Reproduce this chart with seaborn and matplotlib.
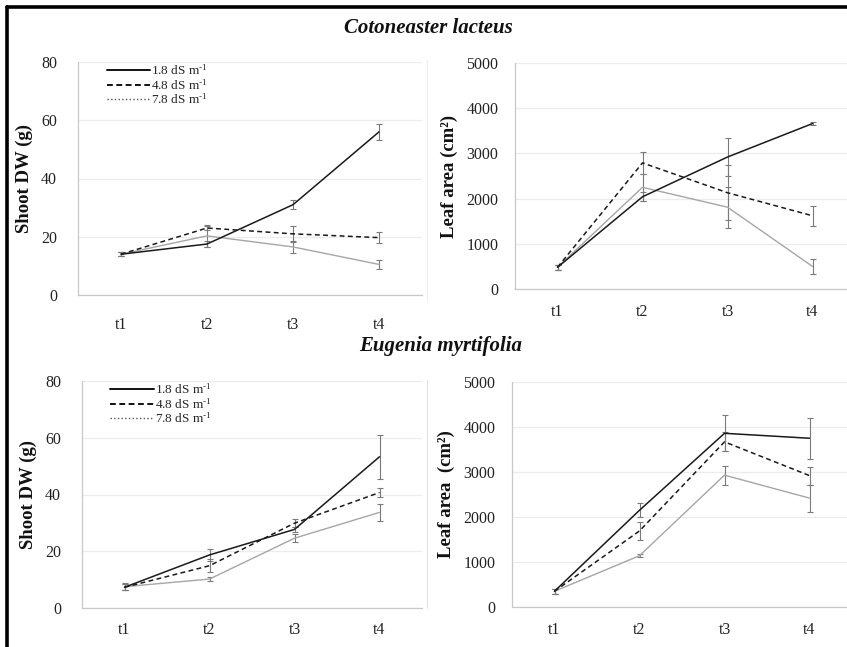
import matplotlib
matplotlib.use("Agg")
import matplotlib.pyplot as plt
import seaborn as sns
import pandas as pd
from matplotlib.lines import Line2D

# ---------------- data ----------------
times = ["t1", "t2", "t3", "t4"]
treatments = ["1.8 dS m$^{\\text{-1}}$", "4.8 dS m$^{\\text{-1}}$", "7.8 dS m$^{\\text{-1}}$"]

# Cotoneaster lacteus
cot_dw = [[14.0, 17.5, 31.0, 56.0],
          [14.0, 23.0, 21.0, 19.7],
          [14.0, 20.3, 16.5, 10.5]]
cot_dw_err = [[0.6, 1.0, 1.5, 2.8],
              [0.6, 0.8, 2.8, 2.0],
              [0.6, 3.7, 2.0, 1.5]]
cot_la = [[480, 2040, 2920, 3660],
          [480, 2790, 2130, 1620],
          [480, 2250, 1810, 500]]
cot_la_err = [[60, 100, 410, 40],
              [60, 250, 610, 225],
              [60, 300, 450, 160]]

# Eugenia myrtifolia
eug_dw = [[7.3, 18.7, 27.7, 53.3],
          [7.3, 14.9, 29.9, 40.7],
          [7.5, 10.2, 24.6, 33.7]]
eug_dw_err = [[1.0, 2.2, 1.0, 7.8],
              [1.0, 2.2, 1.5, 1.6],
              [1.2, 0.7, 1.5, 3.1]]
eug_la = [[350, 2150, 3860, 3750],
          [350, 1690, 3670, 2920],
          [350, 1140, 2930, 2420]]
eug_la_err = [[50, 160, 400, 450],
              [50, 205, 210, 200],
              [50, 30, 210, 300]]

species_titles = ["Cotoneaster lacteus", "Eugenia myrtifolia"]

# ---------------- style ----------------
sns.set_theme(style="white")
plt.rcParams["font.family"] = ["Liberation Serif", "DejaVu Serif"]
plt.rcParams["mathtext.fontset"] = "custom"
plt.rcParams["mathtext.rm"] = "Liberation Serif"
plt.rcParams["mathtext.it"] = "Liberation Serif:italic"
plt.rcParams["mathtext.bf"] = "Liberation Serif:bold"

colors = ["#1a1a1a", "#1a1a1a", "#a6a6a6"]
styles = ["-", (0, (3.2, 2.2)), "-"]
widths = [1.1, 1.1, 1.0]
grid_c = "#ececec"
axis_c = "#c8c8c8"

fig = plt.figure(figsize=(8.47, 6.47), dpi=100)
W, H = 847, 647


def add_ax(x0, y0, x1, y1):
    return fig.add_axes([x0 / W, 1 - y1 / H, (x1 - x0) / W, (y1 - y0) / H])


def make_df(vals):
    rows = []
    for tr, series in zip(treatments, vals):
        for t, v in zip(times, series):
            rows.append({"time": t, "value": v, "treatment": tr})
    return pd.DataFrame(rows)


def draw(ax, vals, errs, ymax, ystep, ylabel, xpad, ypad, legend=False):
    df = make_df(vals)
    for i, tr in enumerate(treatments):
        sub = df[df["treatment"] == tr]
        sns.lineplot(data=sub, x="time", y="value", ax=ax, color=colors[i],
                     linestyle=styles[i], linewidth=widths[i], sort=False,
                     zorder=3 - i * 0.1)
        ax.errorbar(list(range(len(times))), vals[i], yerr=errs[i], fmt="none",
                    ecolor="#7a7a7a", elinewidth=0.8, capsize=2.2,
                    capthick=0.8, zorder=2)
    ax.set_xlim(-0.5, 3.5)
    ax.set_ylim(0, ymax)
    ax.set_yticks(range(0, ymax + 1, ystep))
    ax.set_xticks(range(len(times)))
    ax.set_xticklabels(times)
    ax.yaxis.grid(True, color=grid_c, linewidth=0.9)
    ax.set_axisbelow(True)
    for s in ["top", "right"]:
        ax.spines[s].set_visible(False)
    for s in ["left", "bottom"]:
        ax.spines[s].set_color(axis_c)
        ax.spines[s].set_linewidth(0.9)
    ax.tick_params(axis="both", length=0, labelsize=11.5, colors="#222222")
    ax.tick_params(axis="x", pad=xpad)
    ax.tick_params(axis="y", pad=ypad)
    ax.set_xlabel("")
    ax.set_ylabel(ylabel, fontsize=13.5, fontweight="bold", color="#111111",
                  labelpad=6)
    if legend:
        handles = [Line2D([], [], color="#111111", linestyle="-", linewidth=1.4),
                   Line2D([], [], color="#111111", linestyle=(0, (3, 1.8)), linewidth=1.4),
                   Line2D([], [], color="#555555", linestyle=":", linewidth=1.0)]
        ax.legend(handles, treatments, loc="upper left",
                  bbox_to_anchor=(0.06, 1.03), frameon=False, fontsize=9.5,
                  handlelength=3.3, handletextpad=0.1, labelspacing=0.0,
                  borderaxespad=0.2)
    else:
        leg = ax.get_legend()
        if leg:
            leg.remove()


ax1 = add_ax(78, 62, 422, 295)
draw(ax1, cot_dw, cot_dw_err, 80, 20, "Shoot DW (g)", 16, 15, legend=True)
ax2 = add_ax(515, 63, 855, 289)
draw(ax2, cot_la, cot_la_err, 5000, 1000, "Leaf area (cm²)", 11, 12)
ax3 = add_ax(82, 381, 422, 608)
draw(ax3, eug_dw, eug_dw_err, 80, 20, "Shoot DW (g)", 10, 15, legend=True)
ax4 = add_ax(512, 382, 852, 607)
draw(ax4, eug_la, eug_la_err, 5000, 1000, "Leaf area  (cm²)", 11, 12)

# species titles
fig.text(428 / W, 1 - 28 / H, species_titles[0], ha="center", va="center",
         fontsize=15, fontweight="bold", fontstyle="italic", color="#111111")
fig.text(441 / W, 1 - 346 / H, species_titles[1], ha="center", va="center",
         fontsize=15, fontweight="bold", fontstyle="italic", color="#111111")

# outer frame (top and left)
fig.add_artist(Line2D([7 / W, 1], [1 - 7 / H, 1 - 7 / H], color="black",
                      linewidth=2.6, transform=fig.transFigure))
fig.add_artist(Line2D([7 / W, 7 / W], [0, 1 - 7 / H], color="black",
                      linewidth=2.6, transform=fig.transFigure))
# faint chart-area borders
fig.add_artist(Line2D([427 / W, 427 / W], [1 - 608 / H, 1 - 380 / H],
                      color="#e4e4e4", linewidth=0.8, transform=fig.transFigure))
fig.add_artist(Line2D([427 / W, 427 / W], [1 - 300 / H, 1 - 60 / H],
                      color="#eeeeee", linewidth=0.8, transform=fig.transFigure))

fig.savefig("out.png", dpi=100, facecolor="white")
